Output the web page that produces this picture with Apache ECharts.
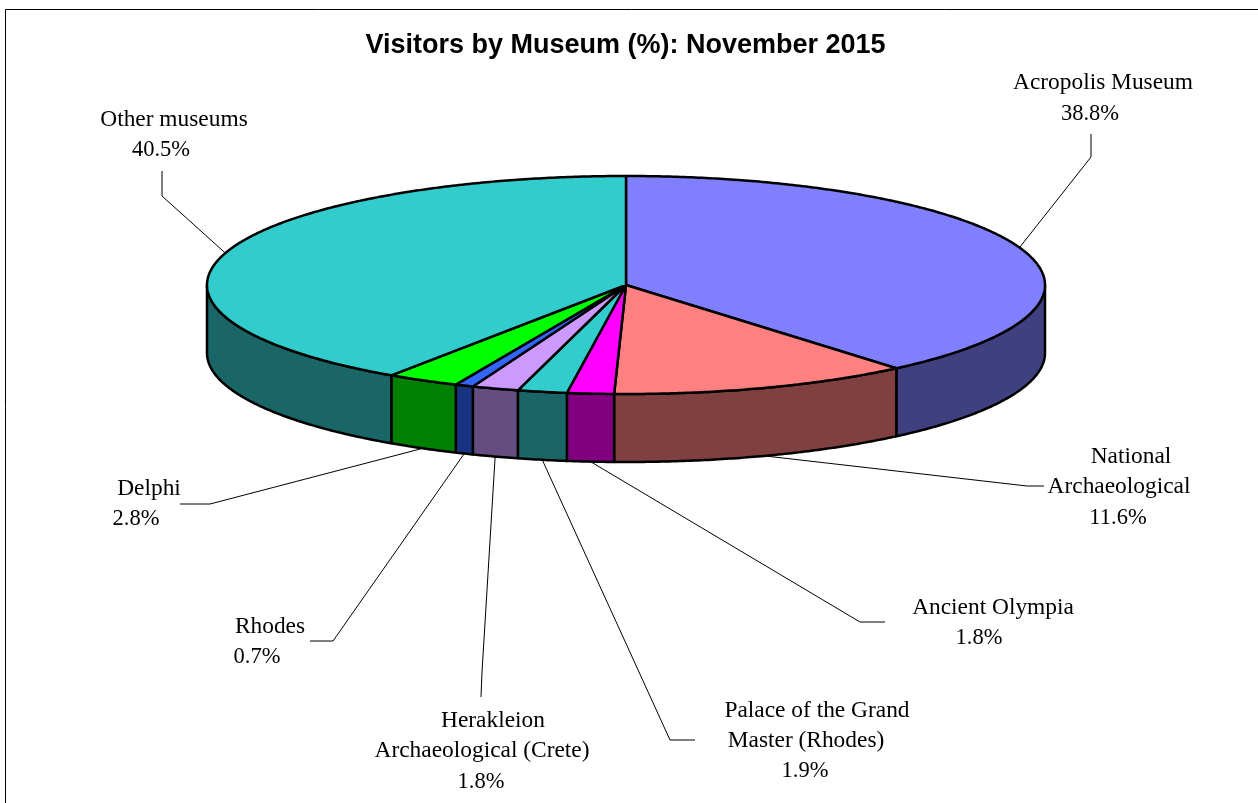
<!DOCTYPE html>
<html>
<head>
<meta charset="utf-8">
<title>Visitors by Museum</title>
<style>
html, body { margin: 0; padding: 0; background: #fff; }
#pieChart { width: 1258px; height: 803px; }
</style>
<script src="https://cdn.jsdelivr.net/npm/echarts@6/dist/echarts.min.js"></script>
</head>
<body>
<div id="pieChart"></div>
<script>
// values, clockwise from 12 o'clock
var museums = ['Acropolis Museum', 'National Archaeological', 'Ancient Olympia', 'Palace of the Grand Master (Rhodes)',
	'Herakleion Archaeological (Crete)', 'Rhodes', 'Delphi', 'Other museums'];
var shares = [38.8, 11.6, 1.8, 1.9, 1.8, 0.7, 2.8, 40.5];
var topColors = ['#8080FF', '#FF8080', '#FF00FF', '#33CCCC', '#CC99FF', '#3366FF', '#00FF00', '#33CCCC'];
var wallColors = ['#404080', '#804040', '#800080', '#1A6666', '#664D80', '#1A3380', '#008000', '#1A6666'];
var nameLines = [
	['Acropolis Museum'],
	['National', 'Archaeological'],
	['Ancient Olympia'],
	['Palace of the Grand', 'Master (Rhodes)'],
	['Herakleion', 'Archaeological (Crete)'],
	['Rhodes'],
	['Delphi'],
	['Other museums']
];

// label layout: line centres, then the leader's bend points
var labelCentres = [
	[[1103, 83], [1090, 114]],
	[[1131, 457], [1119, 487], [1118, 518]],
	[[993, 608], [979, 638]],
	[[817, 711], [806, 741], [805, 771]],
	[[493, 721], [482, 751], [481, 782]],
	[[270, 627], [257, 657]],
	[[149, 489], [136, 519]],
	[[174, 120], [161, 150]]
];
var leaderBends = [
	[[1091, 157], [1091, 134]],
	[[1027, 486], [1044, 486]],
	[[860, 622], [885, 622]],
	[[670, 740], [695, 740]],
	[[482, 672], [481, 697]],
	[[333, 641], [310, 641]],
	[[210, 504], [180, 504]],
	[[162, 196], [162, 171]]
];

var cx = 626, cy = 285, rx = 419, ry = 109, depth = 68;
var total = shares.reduce(function(a, b) { return a + b; }, 0);

// start and end of each slice, as an angle clockwise from the top
var sliceData = [];
var running = 0;
shares.forEach(function(v, i) {
	sliceData.push({ name: museums[i], value: [running / total * 360, (running + v) / total * 360, v] });
	running += v;
});

function ellipsePoint(deg, dy) {
	var r = deg * Math.PI / 180;
	return [cx + rx * Math.sin(r), cy - ry * Math.cos(r) + (dy || 0)];
}

function arcPoints(from, to, dy) {
	var pts = [];
	var steps = Math.max(2, Math.ceil(Math.abs(to - from) * 2));
	for (var i = 0; i <= steps; i++) {
		pts.push(ellipsePoint(from + (to - from) * i / steps, dy));
	}
	return pts;
}

function renderWall(params, api) {
	// only the front half of the rim can be seen
	var from = Math.max(api.value(0), 90);
	var to = Math.min(api.value(1), 270);
	if (to <= from) {
		return { type: 'group', children: [] };
	}
	var pts = arcPoints(from, to, 0).concat(arcPoints(to, from, depth));
	return {
		type: 'polygon',
		shape: { points: pts },
		style: { fill: wallColors[params.dataIndex], stroke: '#000', lineWidth: 2.5, lineJoin: 'round' }
	};
}

function renderTop(params, api) {
	var pts = [[cx, cy]].concat(arcPoints(api.value(0), api.value(1), 0));
	return {
		type: 'polygon',
		shape: { points: pts },
		style: { fill: topColors[params.dataIndex], stroke: '#000', lineWidth: 2.5, lineJoin: 'round' }
	};
}

function renderLabel(params, api) {
	var i = params.dataIndex;
	var mid = (api.value(0) + api.value(1)) / 2;
	var front = mid > 90 && mid < 270;
	var anchor = ellipsePoint(mid, front ? depth : 0);
	var children = [{
		type: 'polyline',
		shape: { points: [anchor].concat(leaderBends[i]) },
		style: { fill: null, stroke: '#000', lineWidth: 1 }
	}];
	var lines = nameLines[i].concat([api.value(2).toFixed(1) + '%']);
	lines.forEach(function(line, k) {
		var isPercent = k === lines.length - 1;
		children.push({
			type: 'text',
			style: {
				x: labelCentres[i][k][0],
				y: labelCentres[i][k][1],
				text: line,
				fill: '#000',
				font: (isPercent ? '22.5' : '23.4') + 'px "Liberation Serif"',
				align: 'center',
				verticalAlign: 'middle'
			}
		});
	});
	return { type: 'group', children: children };
}

var pieChart = echarts.init(document.getElementById('pieChart'));
var option = {
	animation: false,
	backgroundColor: '#fff',
	title: {
		text: 'Visitors by Museum (%): November 2015',
		left: 620.5,
		top: 27,
		textAlign: 'center',
		textStyle: { fontFamily: 'Liberation Sans', fontWeight: 'bold', fontSize: 27, color: '#000' }
	},
	graphic: [
		{ type: 'polyline', silent: true, shape: { points: [[5.5, 803], [5.5, 9.5], [1258, 9.5]] }, style: { fill: null, stroke: '#000', lineWidth: 1 } }
	],
	series: [
		{ type: 'custom', name: 'wall', coordinateSystem: 'none', silent: true, z: 1, renderItem: renderWall, data: sliceData },
		{ type: 'custom', name: 'top', coordinateSystem: 'none', silent: true, z: 2, renderItem: renderTop, data: sliceData },
		{ type: 'custom', name: 'labels', coordinateSystem: 'none', silent: true, z: 3, renderItem: renderLabel, data: sliceData }
	]
};
pieChart.setOption(option);
</script>
</body>
</html>
